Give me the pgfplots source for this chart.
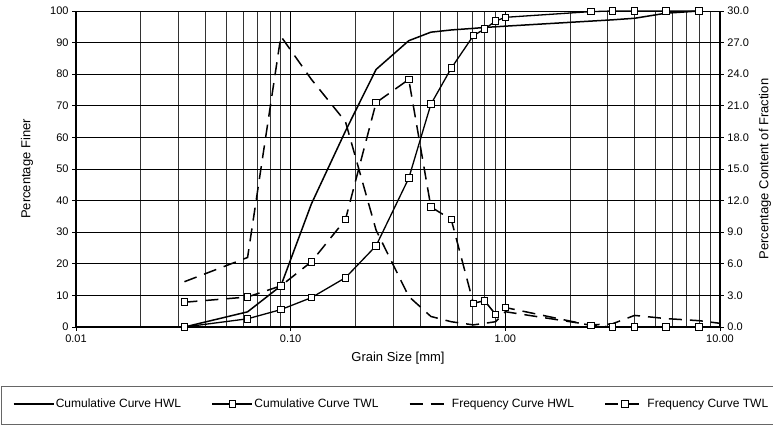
\documentclass[border=0pt]{standalone}
\usepackage{fontspec}
\setmainfont{Liberation Sans}
\usepackage{pgfplots}
\pgfplotsset{compat=1.18}
\usetikzlibrary{calc}

\tikzset{
  cumH/.style={black, line width=1.5bp},
  cumT/.style={black, line width=1.3bp, mark=square*, mark size=3.3bp, mark options={fill=white, solid, line width=0.9bp}},
  freqH/.style={black, line width=1.5bp, dash pattern=on 13bp off 8bp},
  freqT/.style={black, line width=1.5bp, dash pattern=on 13bp off 8bp, mark=square*, mark size=3.3bp, mark options={fill=white, solid, line width=0.9bp}},
}
\pgfplotsset{
  every axis/.append style={
    width=644bp, height=316bp, scale only axis,
    tick align=outside, major tick length=4bp, minor tick length=0pt,
    tick style={black, line width=0.8bp},
    tick label style={font=\fontsize{11bp}{13bp}\selectfont},
    label style={font=\fontsize{13bp}{15bp}\selectfont},
    axis line style={-, black, line width=2bp},
  },
}

\begin{document}
\begin{tikzpicture}
% left axis: cumulative curves
\begin{axis}[name=ax,
  xmode=log, xmin=0.01, xmax=10,
  ymin=0, ymax=100,
  axis x line*=bottom, axis y line*=left,
  xtick={0.01,0.1,1,10}, xticklabels={0.01,0.10,1.00,10.00},
  ytick={0,10,20,30,40,50,60,70,80,90,100},
  yticklabels={0,10,20,30,40,50,60,70,80,90,100},
  grid=both,
  major grid style={black, line width=0.9bp},
  minor grid style={black!80, line width=0.7bp},
  xlabel={Grain Size [mm]},
  ylabel={Percentage Finer},
  xlabel style={at={(axis description cs:0.5,-0.098)}, anchor=center},
  ylabel style={at={(axis description cs:-0.076,0.5)}, anchor=center},
]
\addplot[cumH] coordinates {
  (0.032,0) (0.063,4.8) (0.09,13) (0.125,39) (0.18,62) (0.25,81.5)
  (0.355,90.6) (0.45,93.3) (0.56,94.0) (0.71,94.5) (0.8,94.8) (0.9,95.0)
  (1.0,95.2) (2.5,96.8) (3.15,97.2) (4.0,97.7) (5.6,99.3) (8.0,100)
};
\addplot[cumT] coordinates {
  (0.032,0) (0.063,2.6) (0.09,5.5) (0.125,9.3) (0.18,15.6) (0.25,25.7)
  (0.355,47.1) (0.45,70.5) (0.56,81.9) (0.71,92.2) (0.8,94.3) (0.9,96.8)
  (1.0,98.0) (2.5,99.8) (3.15,100) (4.0,100) (5.6,100) (8.0,100)
};
\end{axis}
% right axis: frequency curves
\begin{axis}[
  xmode=log, xmin=0.01, xmax=10,
  ymin=0, ymax=30,
  axis x line=none, axis y line*=right,
  ytick={0,3,6,9,12,15,18,21,24,27,30},
  yticklabels={0.0,3.0,6.0,9.0,12.0,15.0,18.0,21.0,24.0,27.0,30.0},
  ylabel={Percentage Content of Fraction},
  ylabel style={at={(axis description cs:1.07,0.5)}, anchor=center},
  legend columns=4,
  legend cell align=left,
  legend image code/.code={\draw[mark repeat=2,mark phase=2,#1] plot coordinates {(0bp,0bp) (20bp,0bp) (40bp,0bp)};},
  legend style={at={(axis description cs:0.4895,-0.244)}, anchor=center, draw=none, fill=none,
    font=\fontsize{12bp}{14bp}\selectfont,
    nodes={inner sep=1.5bp},
    /tikz/every even column/.append style={column sep=29bp}},
]
\addlegendimage{cumH}
\addlegendentry{Cumulative Curve HWL}
\addlegendimage{cumT}
\addlegendentry{Cumulative Curve TWL}
\addplot[freqH] coordinates {
  (0.032,4.3) (0.063,6.6) (0.09,27.6) (0.125,23.5) (0.18,19.5) (0.25,9.2)
  (0.355,2.9) (0.45,1.0) (0.56,0.5) (0.71,0.2) (0.8,0.35) (0.9,0.5)
  (1.0,1.45) (2.5,0.2) (3.15,0.3) (4.0,1.1) (5.6,0.8) (8.0,0.6) (10,0.35)
};
\addlegendentry{Frequency Curve HWL}
\addplot[freqT] coordinates {
  (0.032,2.35) (0.063,2.85) (0.09,3.9) (0.125,6.2) (0.18,10.2) (0.25,21.3)
  (0.355,23.5) (0.45,11.4) (0.56,10.2) (0.71,2.25) (0.8,2.5) (0.9,1.2)
  (1.0,1.85) (2.5,0.15) (3.15,0) (4.0,0) (5.6,0) (8.0,0)
};
\addlegendentry{Frequency Curve TWL}
\end{axis}
\draw[black!60, line width=0.8bp] ($(ax.south west)+(-75bp,-59bp)$) rectangle ($(ax.south west)+(702bp,-97bp)$);
\pgfresetboundingbox
\path ($(ax.south west)+(-76bp,-106bp)$) rectangle ($(ax.south west)+(697bp,327bp)$);
\end{tikzpicture}
\end{document}
